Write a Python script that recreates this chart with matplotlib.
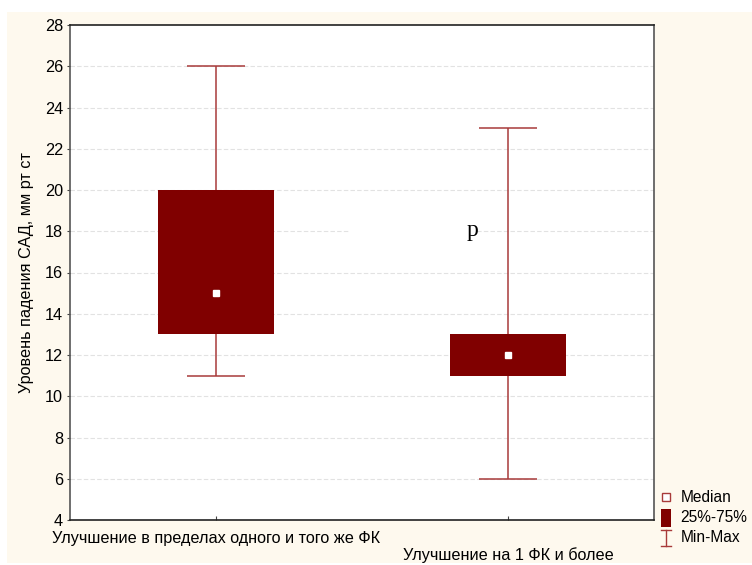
import numpy as np
import matplotlib.pyplot as plt
from matplotlib.patches import Rectangle, Patch
from matplotlib.lines import Line2D
from matplotlib.legend_handler import HandlerBase

categories = ["Улучшение в пределах одного и того же ФК", "Улучшение на 1 ФК и более"]
medians = [15, 12]
q1 = [13, 11]
q3 = [20, 13]
mins = [11, 6]
maxs = [26, 23]
yticks = np.arange(4, 29, 2)

box_color = "#800000"
whisk_color = "#a83a3a"
cream = "#fef9ee"

plt.rcParams['font.family'] = ['Liberation Sans', 'DejaVu Sans']


class HandlerMinMax(HandlerBase):
    """Legend glyph: vertical bar with caps (I-beam)."""
    def create_artists(self, legend, orig_handle, xd, yd, width, height, fontsize, trans):
        cx = -xd + width / 2
        y0, y1 = -yd - 2.5, -yd + height
        w = 3.5
        return [Line2D([cx, cx], [y0, y1], color=whisk_color, lw=1, transform=trans),
                Line2D([cx - w, cx + w], [y0, y0], color=whisk_color, lw=1, transform=trans),
                Line2D([cx - w, cx + w], [y1, y1], color=whisk_color, lw=1, transform=trans)]


class HandlerTallBox(HandlerBase):
    """Legend glyph: narrow filled box."""
    def create_artists(self, legend, orig_handle, xd, yd, width, height, fontsize, trans):
        w = 7
        cx = -xd + width / 2
        r = Rectangle((cx - w / 2, -yd - 2.5), w, height + 3.5,
                      facecolor=box_color, edgecolor="none", transform=trans)
        return [r]


fig = plt.figure(figsize=(7.52, 5.65), dpi=100, facecolor="white")
fig.patches.append(Rectangle((7 / 752, 2 / 565), 745 / 752, 551 / 565,
                             transform=fig.transFigure, facecolor=cream,
                             edgecolor="none", zorder=-10))
ax = fig.add_axes([70 / 752, 45 / 565, 584 / 752, 495 / 565])
ax.set_facecolor("white")

x = np.arange(len(categories))

# grid
for yv in yticks[1:-1]:
    ax.axhline(yv, color="#e2e2e2", lw=0.8, ls=(0, (4, 2)), zorder=0)

# min-max whiskers
ax.vlines(x, mins, maxs, color=whisk_color, lw=1.1, zorder=2)
ax.hlines(mins, x - 0.1, x + 0.1, color=whisk_color, lw=1.1, zorder=2)
ax.hlines(maxs, x - 0.1, x + 0.1, color=whisk_color, lw=1.1, zorder=2)

# 25%-75% boxes
ax.bar(x, np.array(q3) - np.array(q1), bottom=q1, width=0.4,
       color=box_color, zorder=3)

# medians
ax.plot(x, medians, ls="none", marker="s", ms=4.5, mfc="white",
        mec="white", zorder=4)

# text label with white backing over the grid
ax.add_patch(Rectangle((0.46, 17.7), 0.43, 0.6, facecolor="white",
                       edgecolor="none", zorder=1))
ax.text(0.877, 18.05, "p", family="Liberation Serif", fontsize=17,
        ha="center", va="center", zorder=5)

ax.set_xlim(-0.5, 1.5)
ax.set_ylim(4, 28)
ax.set_yticks(yticks)
ax.set_xticks(x)
ax.set_xticklabels([categories[0], "\n" + categories[1]], fontsize=11.7,
                   linespacing=1.05)
ax.tick_params(axis="y", labelsize=11.7, length=2, width=0.8, color="#444444", pad=3)
ax.tick_params(axis="x", direction="in", length=3, width=0.8, color="#444444", pad=8)
for s in ax.spines.values():
    s.set_color("#222222")
    s.set_linewidth(1.2)
ax.spines["left"].set_color("#555555")
ax.spines["right"].set_color("#555555")

ax.set_ylabel("Уровень падения САД, мм рт ст", fontsize=11.7, labelpad=8)

handles = [
    Line2D([], [], ls="none", marker="s", ms=6, mfc="white", mec=whisk_color, mew=1),
    Patch(facecolor=box_color, edgecolor=box_color),
    Line2D([], []),
]
labels = ["Median", "25%-75%", "Min-Max"]
fig.legend(handles, labels, loc="lower left",
           bbox_to_anchor=(654 / 752, 14 / 565), frameon=False, fontsize=11.2,
           handlelength=0.7, handleheight=0.9, handletextpad=0.6,
           labelspacing=0.3, borderpad=0.2, borderaxespad=0.2,
           handler_map={handles[1]: HandlerTallBox(), handles[2]: HandlerMinMax()})

fig.savefig("out.png", dpi=100, facecolor=fig.get_facecolor())
